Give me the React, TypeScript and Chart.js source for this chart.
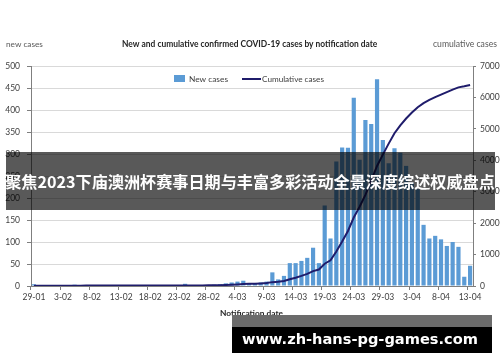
import React, { useEffect, useRef } from "react";
import { Chart, registerables } from "chart.js";

Chart.register(...registerables);

const dateLabels: string[] = [
  "29-01", "30-01", "31-01",
  "1-02", "2-02", "3-02", "4-02", "5-02", "6-02", "7-02", "8-02", "9-02", "10-02",
  "11-02", "12-02", "13-02", "14-02", "15-02", "16-02", "17-02", "18-02", "19-02", "20-02",
  "21-02", "22-02", "23-02", "24-02", "25-02", "26-02", "27-02", "28-02", "29-02",
  "1-03", "2-03", "3-03", "4-03", "5-03", "6-03", "7-03", "8-03", "9-03", "10-03",
  "11-03", "12-03", "13-03", "14-03", "15-03", "16-03", "17-03", "18-03", "19-03", "20-03",
  "21-03", "22-03", "23-03", "24-03", "25-03", "26-03", "27-03", "28-03", "29-03", "30-03", "31-03",
  "1-04", "2-04", "3-04", "4-04", "5-04", "6-04", "7-04", "8-04", "9-04", "10-04",
  "11-04", "12-04", "13-04",
];

const newCases: number[] = [
  4, 1, 0, 1, 2, 0, 0, 3, 0, 1,
  0, 0, 0, 0, 0, 0, 0, 0, 0, 0,
  0, 0, 0, 0, 0, 0, 5, 0, 0, 1,
  2, 3, 4, 6, 8, 10, 12, 5, 6, 8,
  10, 31, 15, 23, 52, 52, 57, 64, 87, 52,
  183, 108, 283, 315, 314, 428, 287, 377, 368, 470,
  332, 279, 313, 303, 273, 235, 220, 139, 108, 114,
  106, 91, 100, 89, 21, 46,
];

const cumulativeCases: number[] = [
  4, 5, 5, 6, 8, 8, 8, 11, 11, 12,
  12, 12, 12, 12, 12, 12, 12, 12, 12, 12,
  12, 12, 12, 12, 12, 12, 17, 17, 17, 18,
  20, 23, 27, 33, 41, 51, 63, 68, 74, 82,
  92, 123, 138, 161, 213, 265, 322, 386, 473, 525,
  708, 816, 1099, 1414, 1750, 2180, 2520, 2900, 3350, 3820,
  4180, 4530, 4860, 5110, 5330, 5520, 5690, 5820, 5920, 6010,
  6090, 6170, 6250, 6320, 6355, 6395,
];

const titleText = "New and cumulative confirmed COVID-19 cases by notification date";
const leftAxisTitle = "new cases";
const rightAxisTitle = "cumulative cases";
const xAxisTitle = "Notification date";
const barLegend = "New cases";
const lineLegend = "Cumulative cases";
const bannerText = "聚焦2023下庙澳洲杯赛事日期与丰富多彩活动全景深度综述权威盘点";
const urlText = "www.zh-hans-pg-games.com";

const BAR_COLOR = "#5b9bd5";
const LINE_COLOR = "#1f1c6b";
const AXIS_COLOR = "#7f7f7f";
const TEXT_COLOR = "#404040";
const FONT = "Lato, 'Open Sans', sans-serif";

function fitText(
  ctx: CanvasRenderingContext2D,
  text: string,
  weight: string,
  family: string,
  targetWidth: number
) {
  ctx.font = `${weight} 20px ${family}`;
  const w = ctx.measureText(text).width;
  const size = (20 * targetWidth) / w;
  ctx.font = `${weight} ${size}px ${family}`;
}

const overlayPlugin = {
  id: "overlay",
  afterDraw(chart: any) {
    const ctx: CanvasRenderingContext2D = chart.ctx;
    ctx.save();
    ctx.textBaseline = "middle";

    ctx.fillStyle = "#595959";
    ctx.textAlign = "left";
    fitText(ctx, leftAxisTitle, "400", FONT, 37);
    ctx.fillText(leftAxisTitle, 6, 44);
    fitText(ctx, rightAxisTitle, "400", FONT, 64);
    ctx.fillText(rightAxisTitle, 433, 44);
    ctx.fillStyle = "#262626";
    fitText(ctx, titleText, "700", FONT, 256);
    ctx.fillText(titleText, 122, 44);

    ctx.fillStyle = BAR_COLOR;
    ctx.fillRect(174, 75, 11, 7);
    ctx.fillStyle = TEXT_COLOR;
    fitText(ctx, barLegend, "400", FONT, 39);
    ctx.fillText(barLegend, 189, 79);
    ctx.strokeStyle = LINE_COLOR;
    ctx.lineWidth = 2;
    ctx.beginPath();
    ctx.moveTo(242, 79);
    ctx.lineTo(261, 79);
    ctx.stroke();
    fitText(ctx, lineLegend, "400", FONT, 62);
    ctx.fillText(lineLegend, 262, 79);

    ctx.fillStyle = "#262626";
    fitText(ctx, xAxisTitle, "700", FONT, 63);
    ctx.fillText(xAxisTitle, 220, 313);

    ctx.fillStyle = "rgba(0,0,0,0.65)";
    ctx.fillRect(6, 152, 489, 58);
    ctx.fillStyle = "#ffffff";
    ctx.textAlign = "center";
    fitText(ctx, bannerText, "700", "'Noto Sans CJK SC', sans-serif", 490);
    ctx.fillText(bannerText, 250, 182);

    ctx.fillStyle = "#6b6b6b";
    ctx.fillRect(232, 315, 260, 12);
    ctx.fillStyle = "#000000";
    ctx.fillRect(232, 327, 260, 26);
    ctx.fillStyle = "#ffffff";
    fitText(ctx, urlText, "700", "'DejaVu Sans', sans-serif", 236);
    ctx.fillText(urlText, 360, 340);

    ctx.restore();
  },
};

export default function App() {
  const canvasRef = useRef<HTMLCanvasElement | null>(null);

  useEffect(() => {
    const canvas = canvasRef.current;
    if (!canvas) return;
    const tickFont = { family: FONT, size: 8.5 };
    const chart = new Chart(canvas, {
      type: "bar",
      data: {
        labels: dateLabels,
        datasets: [
          {
            type: "line",
            label: lineLegend,
            data: cumulativeCases,
            yAxisID: "y1",
            borderColor: LINE_COLOR,
            borderWidth: 2,
            pointRadius: 0,
            tension: 0,
            order: 0,
          } as any,
          {
            type: "bar",
            label: barLegend,
            data: newCases,
            yAxisID: "y",
            backgroundColor: BAR_COLOR,
            barPercentage: 0.72,
            categoryPercentage: 1,
            order: 1,
          } as any,
        ],
      },
      options: {
        responsive: false,
        animation: false,
        devicePixelRatio: 1,
        layout: { padding: { top: 66, left: 0, right: 0, bottom: 0 } },
        plugins: {
          legend: { display: false },
          tooltip: { enabled: false },
          title: { display: false },
        },
        scales: {
          x: {
            offset: true,
            grid: {
              offset: true,
              drawOnChartArea: false,
              drawTicks: true,
              tickLength: 4,
              color: (c: any) => (c.index % 5 === 0 ? AXIS_COLOR : "rgba(0,0,0,0)"),
            },
            border: { display: true, color: AXIS_COLOR },
            ticks: {
              autoSkip: false,
              maxRotation: 0,
              minRotation: 0,
              padding: 2,
              color: TEXT_COLOR,
              font: tickFont,
              callback: (_v: any, i: number) => (i % 5 === 0 ? dateLabels[i] : ""),
            },
            afterFit: (s: any) => {
              s.height = 76;
            },
          } as any,
          y: {
            position: "left",
            min: 0,
            max: 500,
            grid: { color: "#d9d9d9", tickColor: AXIS_COLOR, tickLength: 4, drawTicks: true },
            border: { display: true, color: AXIS_COLOR },
            ticks: {
              stepSize: 50,
              autoSkip: false,
              padding: 7,
              color: TEXT_COLOR,
              font: tickFont,
              callback: (v: any) => String(v),
            },
            afterFit: (s: any) => {
              s.width = 31;
            },
          } as any,
          y1: {
            position: "right",
            min: 0,
            max: 7000,
            grid: { drawOnChartArea: false, tickColor: AXIS_COLOR, tickLength: 3, drawTicks: true },
            border: { display: true, color: AXIS_COLOR },
            ticks: {
              stepSize: 1000,
              autoSkip: false,
              padding: 4,
              color: TEXT_COLOR,
              font: tickFont,
              callback: (v: any) => String(v),
            },
            afterFit: (s: any) => {
              s.width = 27;
            },
          } as any,
        },
      },
      plugins: [overlayPlugin],
    });
    return () => chart.destroy();
  }, []);

  return (
    <div style={{ position: "fixed", left: 0, top: 0, width: 500, height: 362, background: "#ffffff" }}>
      <canvas ref={canvasRef} width={500} height={362} style={{ display: "block", width: 500, height: 362 }} />
    </div>
  );
}
